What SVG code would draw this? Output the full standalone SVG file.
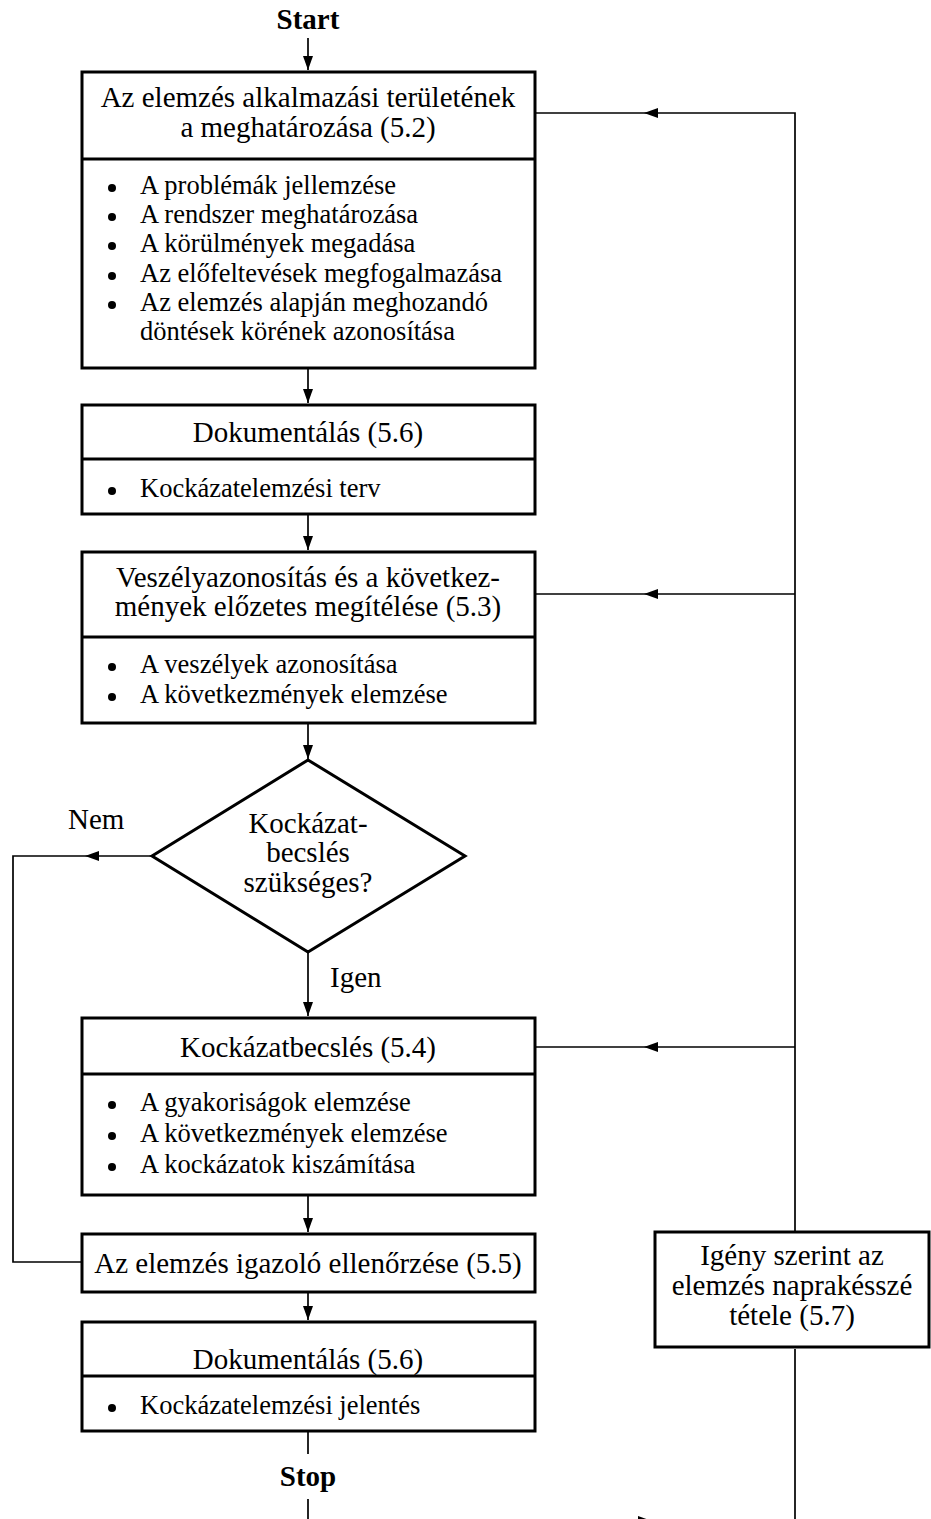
<svg xmlns="http://www.w3.org/2000/svg" width="931" height="1519" viewBox="0 0 931 1519">
<defs>
<style>
text{font-family:"Liberation Serif","Times New Roman",serif;font-size:29px;fill:#000}
.c{text-anchor:middle}
.b{font-weight:bold}
.i{font-size:26.5px}
.box{fill:#fff;stroke:#000;stroke-width:3}
.div{stroke:#000;stroke-width:3}
.con{fill:none;stroke:#000;stroke-width:1.7}
.dot{fill:#000}
</style>
<marker id="ah" markerUnits="userSpaceOnUse" markerWidth="15" markerHeight="11" refX="14" refY="5" orient="auto">
<path d="M0,0 L14,5 L0,10 z" fill="#000"/>
</marker>
</defs>
<rect width="931" height="1519" fill="#fff"/>

<g id="connectors">
<path class="con" d="M308,38 V70" marker-end="url(#ah)"/>
<path class="con" d="M308,369 V403" marker-end="url(#ah)"/>
<path class="con" d="M308,515 V550" marker-end="url(#ah)"/>
<path class="con" d="M308,724 V759" marker-end="url(#ah)"/>
<path class="con" d="M308,952 V1016" marker-end="url(#ah)"/>
<path class="con" d="M308,1196 V1232" marker-end="url(#ah)"/>
<path class="con" d="M308,1293 V1320" marker-end="url(#ah)"/>
<path class="con" d="M308,1432 V1454"/>
<path class="con" d="M308,1499 V1521 H652" marker-end="url(#ah)"/>
<path class="con" d="M652,1521 H795 V1349"/>
<path class="con" d="M795,1231 V113 H644" marker-end="url(#ah)"/>
<path class="con" d="M644,113 H536"/>
<path class="con" d="M795,594 H644" marker-end="url(#ah)"/>
<path class="con" d="M644,594 H536"/>
<path class="con" d="M795,1047 H644" marker-end="url(#ah)"/>
<path class="con" d="M644,1047 H536"/>
<path class="con" d="M152,856 H85" marker-end="url(#ah)"/>
<path class="con" d="M85,856 H13 V1262 H81"/>
</g>

<g id="start"><text class="c b" x="308" y="29">Start</text></g>

<g id="n1">
<rect class="box" x="82" y="72" width="453" height="296"/>
<line class="div" x1="82" y1="159" x2="535" y2="159"/>
<text class="c" x="308" y="107">Az elemzés alkalmazási területének</text>
<text class="c" x="308" y="137">a meghatározása (5.2)</text>
<circle class="dot" cx="112" cy="188" r="4"/><text class="i" x="140" y="194">A problémák jellemzése</text>
<circle class="dot" cx="112" cy="217" r="4"/><text class="i" x="140" y="223">A rendszer meghatározása</text>
<circle class="dot" cx="112" cy="246" r="4"/><text class="i" x="140" y="252">A körülmények megadása</text>
<circle class="dot" cx="112" cy="276" r="4"/><text class="i" x="140" y="282">Az előfeltevések megfogalmazása</text>
<circle class="dot" cx="112" cy="305" r="4"/><text class="i" x="140" y="311">Az elemzés alapján meghozandó</text>
<text class="i" x="140" y="340">döntések körének azonosítása</text>
</g>

<g id="n2">
<rect class="box" x="82" y="405" width="453" height="109"/>
<line class="div" x1="82" y1="459" x2="535" y2="459"/>
<text class="c" x="308" y="442">Dokumentálás (5.6)</text>
<circle class="dot" cx="112" cy="491" r="4"/><text class="i" x="140" y="497">Kockázatelemzési terv</text>
</g>

<g id="n3">
<rect class="box" x="82" y="552" width="453" height="171"/>
<line class="div" x1="82" y1="637" x2="535" y2="637"/>
<text class="c" x="308" y="587">Veszélyazonosítás és a következ-</text>
<text class="c" x="308" y="616">mények előzetes megítélése (5.3)</text>
<circle class="dot" cx="112" cy="667" r="4"/><text class="i" x="140" y="673">A veszélyek azonosítása</text>
<circle class="dot" cx="112" cy="697" r="4"/><text class="i" x="140" y="703">A következmények elemzése</text>
</g>

<g id="decision">
<polygon class="box" points="308,760 465,856 308,952 152,856"/>
<text class="c" x="308" y="833">Kockázat-</text>
<text class="c" x="308" y="862">becslés</text>
<text class="c" x="308" y="892">szükséges?</text>
</g>
<g id="lbl-nem"><text x="68" y="829">Nem</text></g>
<g id="lbl-igen"><text x="330" y="987">Igen</text></g>

<g id="n4">
<rect class="box" x="82" y="1018" width="453" height="177"/>
<line class="div" x1="82" y1="1074" x2="535" y2="1074"/>
<text class="c" x="308" y="1057">Kockázatbecslés (5.4)</text>
<circle class="dot" cx="112" cy="1105" r="4"/><text class="i" x="140" y="1111">A gyakoriságok elemzése</text>
<circle class="dot" cx="112" cy="1136" r="4"/><text class="i" x="140" y="1142">A következmények elemzése</text>
<circle class="dot" cx="112" cy="1167" r="4"/><text class="i" x="140" y="1173">A kockázatok kiszámítása</text>
</g>

<g id="n5">
<rect class="box" x="82" y="1234" width="453" height="58"/>
<text class="c" x="308" y="1273">Az elemzés igazoló ellenőrzése (5.5)</text>
</g>

<g id="n6">
<rect class="box" x="82" y="1322" width="453" height="109"/>
<line class="div" x1="82" y1="1376" x2="535" y2="1376"/>
<text class="c" x="308" y="1369">Dokumentálás (5.6)</text>
<circle class="dot" cx="112" cy="1408" r="4"/><text class="i" x="140" y="1414">Kockázatelemzési jelentés</text>
</g>

<g id="stop"><text class="c b" x="308" y="1486">Stop</text></g>

<g id="n7">
<rect class="box" x="655" y="1232" width="274" height="115"/>
<text class="c" x="792" y="1265">Igény szerint az</text>
<text class="c" x="792" y="1295">elemzés naprakésszé</text>
<text class="c" x="792" y="1325">tétele (5.7)</text>
</g>
</svg>
